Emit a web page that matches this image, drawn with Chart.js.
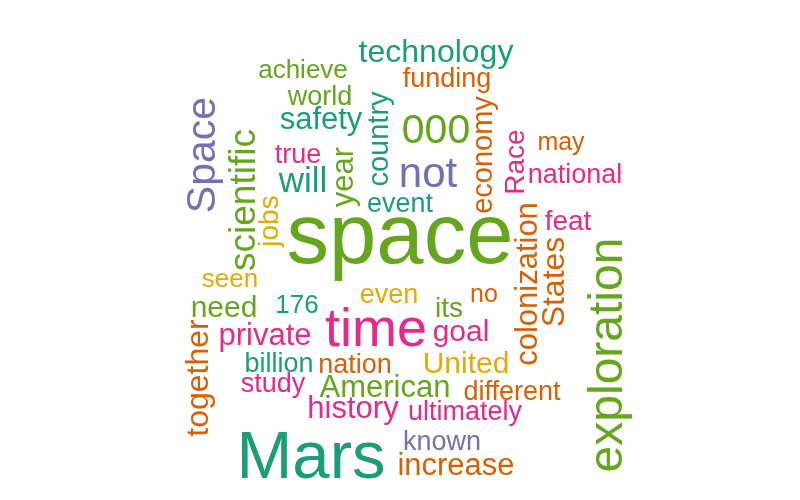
<!DOCTYPE html>
<html>
<head>
<meta charset="utf-8">
<script src="https://cdn.jsdelivr.net/npm/chart.js@4/dist/chart.umd.min.js"></script>
<style>
html,body{margin:0;padding:0;background:#fff;}
#wrap{width:800px;height:500px;position:relative;}
</style>
</head>
<body>
<div id="wrap"><canvas id="c" width="800" height="500"></canvas></div>
<script>
// Word cloud data
const words = ["technology","achieve","funding","world","safety","country","000","economy","may","Space",
  "scientific","true","will","year","not","Race","national","event","jobs","space",
  "feat","colonization","States","exploration","seen","even","no","need","176","its",
  "time","goal","private","together","billion","nation","United","study","American","different",
  "history","ultimately","known","Mars","increase"];
// relative weight (rendered font size)
const freq = [32,26,27,27,31,29,41,29,25,41,
  37,27,35,31,42,28,27,27,28,85,
  28,31,32,48,26,27,25,30,26,28,
  54,30,31,32,27,27,30,27,31,27,
  31,27,27,67,31];
// layout of the cloud (x: centre / baseline for rotated, y: baseline / centre for rotated)
const layoutX = [436,303,447,320,321,388,436,492,561,215,
  255,298,303,353,428,524,575,400,278,400,
  568,537,564,622,230,389,484,224,297,449,
  376,461,265,208,279,355,466,273,385,512,
  353,465,442,311,456];
const layoutY = [62,78,87,105,129,139,143,155,150,155,
  200,163,192,177,187,162,183,212,221,263,
  230,284,282,355,287,303,302,317,313,317,
  346,341,345,378,372,373,373,392,397,400,
  418,420,450,478,475];
const rotated = [0,0,0,0,0,1,0,1,0,1,
  1,0,0,1,0,1,0,0,1,0,
  0,1,1,1,0,0,0,0,0,0,
  0,0,0,1,0,0,0,0,0,0,
  0,0,0,0,0];
const colorIdx = [0,4,1,4,0,0,4,1,1,2,
  4,3,0,4,2,3,3,0,5,4,
  3,1,1,4,5,5,1,4,0,4,
  3,3,3,1,0,1,5,3,4,1,
  3,3,2,0,1];
const palette = ["#1B9E77","#D95F02","#7570B3","#E7298A","#66A61E","#E6AB02"];

const points = words.map((w,i)=>({x:layoutX[i], y:layoutY[i]}));

const wordPlugin = {
  id:'wordcloud',
  afterDatasetsDraw(chart){
    const ctx = chart.ctx;
    const xs = chart.scales.x, ys = chart.scales.y;
    ctx.save();
    words.forEach((w,i)=>{
      const px = xs.getPixelForValue(layoutX[i]);
      const py = ys.getPixelForValue(layoutY[i]);
      ctx.fillStyle = palette[colorIdx[i]];
      ctx.font = freq[i] + 'px "Liberation Sans", Arial, Helvetica, sans-serif';
      ctx.textAlign = 'center';
      ctx.textBaseline = 'alphabetic';
      if (rotated[i]) {
        ctx.save();
        ctx.translate(px, py);
        ctx.rotate(-Math.PI/2);
        ctx.fillText(w, 0, 0);
        ctx.restore();
      } else {
        ctx.fillText(w, px, py);
      }
    });
    ctx.restore();
  }
};

new Chart(document.getElementById('c'), {
  type:'scatter',
  data:{datasets:[{data:points, pointRadius:0, pointHoverRadius:0, showLine:false}]},
  options:{
    responsive:false,
    animation:false,
    layout:{padding:0},
    plugins:{legend:{display:false}, tooltip:{enabled:false}},
    scales:{
      x:{type:'linear', min:0, max:800, display:false},
      y:{type:'linear', min:0, max:500, reverse:true, display:false}
    }
  },
  plugins:[wordPlugin]
});
</script>
</body>
</html>
